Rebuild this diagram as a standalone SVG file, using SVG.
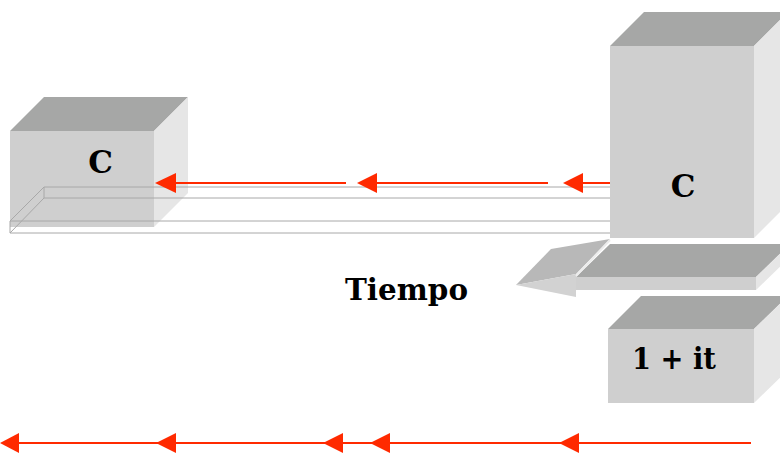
<svg xmlns="http://www.w3.org/2000/svg" width="780" height="456" viewBox="0 0 780 456">
<style>
.top{fill:#a6a7a6}
.front{fill:#cfcfcf}
.side{fill:#e6e6e6}
.lbl{font-family:"DejaVu Serif","Liberation Serif",serif;font-weight:bold;fill:#000}
.wire{fill:none;stroke:#a8a8a8;stroke-width:1}
.red{stroke:#ff2a00;stroke-width:2;fill:none}
.head{fill:#ff2a00}
</style>
<rect width="780" height="456" fill="#fff"/>
<g id="cube-left">
<polygon class="top" points="10,131 44,97 188,97 154,131"/>
<rect class="front" x="10" y="131" width="144" height="96"/>
<polygon class="side" points="154,131 188,97 188,193 154,227"/>
<text class="lbl" x="100.5" y="173" font-size="31" text-anchor="middle">C</text>
</g>
<g id="track">
<path class="wire" d="M44,187H610M44,198H610M10,221H610M10,233H610M10,221V233M44,187V198M44,187L10,221M44,198L10,233"/>
</g>
<g id="cube-right">
<polygon class="top" points="610,46 644,12 788,12 754,46"/>
<rect class="front" x="610" y="46" width="144" height="192"/>
<polygon class="side" points="754,46 788,12 788,204 754,238"/>
<text class="lbl" x="683" y="197" font-size="31" text-anchor="middle">C</text>
</g>
<g id="time-arrow">
<polygon points="610,239 551,249 516,285 576,274" fill="#b8b8b8"/>
<polygon points="516,285 576,274 576,297" fill="#d2d2d2"/>
<polygon class="top" points="610,244 790,244 756,277 576,277"/>
<polyline points="610,240 576,276" fill="none" stroke="#ececec" stroke-width="2"/>
<rect class="front" x="576" y="277" width="180" height="13"/>
<polygon class="side" points="756,277 790,244 790,257 756,290"/>
</g>
<g id="label-tiempo">
<text class="lbl" x="345" y="300" font-size="30" textLength="123" lengthAdjust="spacingAndGlyphs">Tiempo</text>
</g>
<g id="cube-factor">
<polygon class="top" points="608,329 641,296 788,296 754,329"/>
<rect class="front" x="608" y="329" width="146" height="74"/>
<polygon class="side" points="754,329 788,296 788,370 754,403"/>
<text class="lbl" x="632" y="369" font-size="29" textLength="84" lengthAdjust="spacingAndGlyphs">1 + it</text>
</g>
<g id="connectors">
<path class="red" d="M610,183H580M548,183H374M346,183H172"/>
<polygon class="head" points="563,183 583,173 583,193"/>
<polygon class="head" points="357,183 377,173 377,193"/>
<polygon class="head" points="155,183 176,173 176,193"/>
<path class="red" d="M751,443H10"/>
<polygon class="head" points="559,443 579,433 579,453"/>
<polygon class="head" points="370,443 390,433 390,453"/>
<polygon class="head" points="323,443 343,433 343,453"/>
<polygon class="head" points="156,443 176,433 176,453"/>
<polygon class="head" points="0,443 19,433 19,453"/>
</g>
</svg>
